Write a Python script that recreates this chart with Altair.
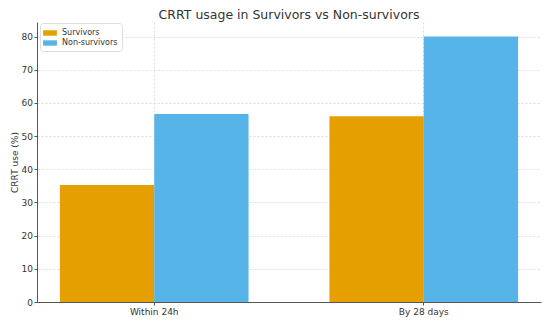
import altair as alt
import pandas as pd

categories = ["Within 24h", "By 28 days"]
groups = ["Survivors", "Non-survivors"]
survivors = [35.3, 56.0]
non_survivors = [56.7, 80.0]
colors = ["#E69F00", "#56B4E9"]

rows = []
for i, c in enumerate(categories):
    rows.append({"cat": c, "group": "Survivors", "val": survivors[i]})
    rows.append({"cat": c, "group": "Non-survivors", "val": non_survivors[i]})
df = pd.DataFrame(rows)

FONT = "DejaVu Sans"

chart = alt.Chart(df).mark_bar().encode(
    x=alt.X("cat:N", sort=categories, title=None,
            scale=alt.Scale(paddingInner=0.3, paddingOuter=0.085),
            axis=alt.Axis(labelAngle=0, grid=True, bandPosition=0.5, tickSize=3,
                          labelPadding=2, labelFontSize=9)),
    xOffset=alt.XOffset("group:N", sort=groups,
                        scale=alt.Scale(paddingInner=0, paddingOuter=0)),
    y=alt.Y("val:Q", title="CRRT use (%)",
            scale=alt.Scale(domain=[0, 84.4], nice=False),
            axis=alt.Axis(values=[0, 10, 20, 30, 40, 50, 60, 70, 80], tickSize=3,
                          labelPadding=1.5, labelFontSize=9, titleFontSize=9,
                          titlePadding=1.5, titleFontWeight="normal")),
    color=alt.Color("group:N", sort=groups,
                    scale=alt.Scale(domain=groups, range=colors),
                    legend=alt.Legend(title=None, orient="none", legendX=3, legendY=1,
                                      symbolType="M-1.15,-0.45H1.15V0.45H-1.15Z",
                                      symbolSize=144, symbolStrokeWidth=0,
                                      labelFontSize=8, labelColor="#333",
                                      fillColor="white", strokeColor="#dddddd",
                                      cornerRadius=3, padding=4, rowPadding=0,
                                      labelOffset=6)),
).properties(
    width=504, height=280,
    title=alt.TitleParams("CRRT usage in Survivors vs Non-survivors", fontSize=12.5,
                          fontWeight="normal", color="#333", offset=1),
    autosize=alt.AutoSizeParams(type="none"),
    padding={"left": 29, "top": 14, "right": 1, "bottom": 15},
).configure(font=FONT).configure_view(stroke=None).configure_axis(
    domainColor="#555", tickColor="#555", labelColor="#333", titleColor="#333",
    gridColor="#dcdcdc", gridDash=[2, 2], labelFont=FONT, titleFont=FONT
)

chart.save("out.html", embed_options={"renderer": "svg", "actions": False})
